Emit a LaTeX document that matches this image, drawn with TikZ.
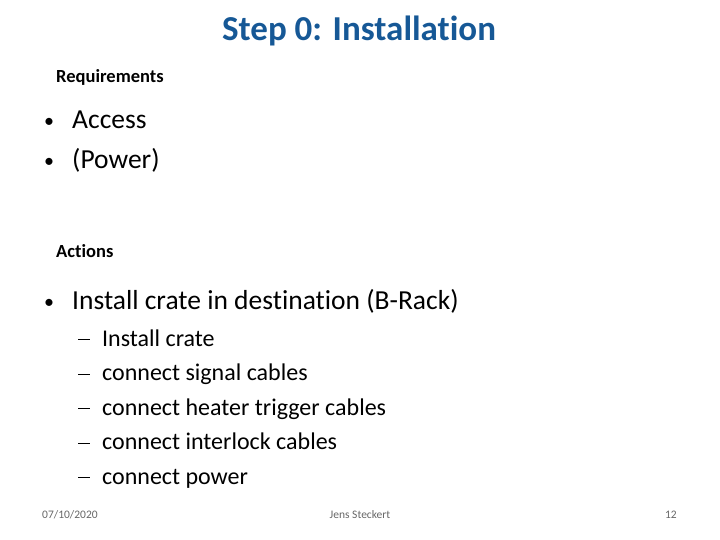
\documentclass[tikz,border=0pt]{standalone}
\usepackage{fontspec}
\setmainfont[RawFeature=-liga]{Carlito}
\definecolor{titleblue}{RGB}{22,88,150}
\begin{document}
\begin{tikzpicture}[x=1pt,y=-1pt,
  txt/.style={anchor=base west,inner sep=0pt},
  lvlone/.style={txt,font=\fontsize{27.5}{32}\selectfont},
  lvltwo/.style={txt,font=\fontsize{24}{28}\selectfont},
  head/.style={txt,font=\fontsize{18.5}{22}\selectfont\bfseries},
  foot/.style={inner sep=0pt,anchor=base,font=\fontsize{11.5}{13}\selectfont,text=black!60}]
\newcommand\blt{\makebox[28pt][l]{\raisebox{1pt}{\fontsize{20}{20}\selectfont•}}}
\useasboundingbox (0,0) rectangle (720,540);
% title
\node[inner sep=0pt,anchor=base,font=\fontsize{35}{40}\selectfont\bfseries,text=titleblue] (title) at (359,41) {Step 0: Installation};
% requirements
\node[head] (req) at (56,83) {Requirements};
\node[lvlone] (access) at (44,129) {\blt Access};
\node[lvlone] (power) at (44,169) {\blt (Power)};
% actions
\node[head] (act) at (56,257) {Actions};
\node[lvlone] (install) at (44,309) {\blt Install crate in destination (B-Rack)};
\foreach \t [count=\i] in {Install crate,connect signal cables,connect heater trigger cables,connect interlock cables,connect power}
  \node[lvltwo] (sub\i) at (78,{346+34.5*(\i-1)}) {\makebox[24pt][l]{\rule[6pt]{12pt}{1pt}}\t};
% footer
\node[foot,anchor=base west] (date) at (42,518) {07/10/2020};
\node[foot] (name) at (360,518) {Jens Steckert};
\node[foot,anchor=base east] (page) at (677,518) {12};
\end{tikzpicture}
\end{document}
